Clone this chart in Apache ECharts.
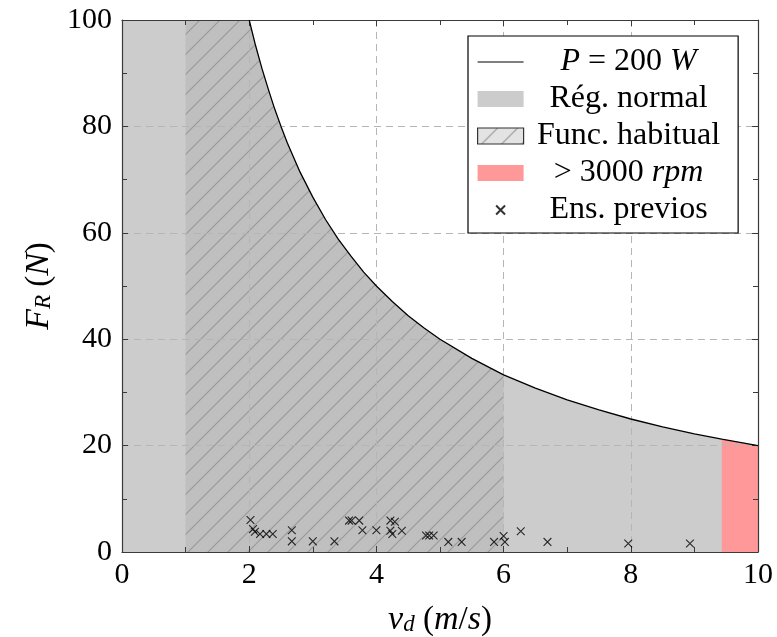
<!DOCTYPE html>
<html>
<head>
<meta charset="utf-8">
<script src="https://cdn.jsdelivr.net/npm/echarts@6/dist/echarts.min.js"></script>
<style>
html,body{margin:0;padding:0;background:#fff;}
#chart{width:777px;height:637px;}
</style>
</head>
<body>
<div id="chart"></div>
<script>
// ---- data ----
// curve P = 200 W  (F = P / v), values read/tabulated
const curveV = [2, 2.1, 2.2, 2.3, 2.4, 2.5, 2.6, 2.8, 3, 3.2, 3.4, 3.6, 3.8, 4, 4.25, 4.5, 4.75, 5, 5.5, 6, 6.5, 7, 7.5, 8, 8.5, 9, 9.43, 10];
const curveF = [100, 95.2, 90.9, 87.0, 83.3, 80, 76.9, 71.4, 66.7, 62.5, 58.8, 55.6, 52.6, 50, 47.1, 44.4, 42.1, 40, 36.4, 33.3, 30.8, 28.6, 26.7, 25, 23.5, 22.2, 21.2, 20];
const normalStart = 0;      // Rég. normal from v = 0
const habitualRange = [1, 6];   // Func. habitual
const rpmRange = [9.43, 10];    // > 3000 rpm
const yTop = 100;
const prevV = [2.02, 2.06, 2.09, 2.17, 2.27, 2.37, 2.67, 2.67, 3.0, 3.34, 3.57, 3.61, 3.73, 3.78, 4.0, 4.22, 4.29, 4.22, 4.25, 4.40, 4.78, 4.83, 4.90, 5.13, 5.34, 5.85, 6.0, 6.02, 6.27, 6.69, 7.96, 8.93];
const prevF = [6.0, 4.3, 3.8, 3.4, 3.4, 3.4, 4.1, 2.0, 2.0, 2.0, 5.9, 5.9, 5.9, 4.1, 4.1, 5.9, 5.7, 4.0, 3.4, 4.0, 3.1, 3.1, 3.1, 1.9, 1.9, 1.9, 3.0, 1.9, 3.9, 1.9, 1.6, 1.6];
const xTicks = [0, 2, 4, 6, 8, 10];
const yTicks = [0, 20, 40, 60, 80, 100];
const names = ['P = 200 W', 'Rég. normal', 'Func. habitual', '> 3000 rpm', 'Ens. previos'];

// ---- helpers ----
function hatch(bg, line, size) {
  const c = document.createElement('canvas');
  c.width = size; c.height = size;
  const ctx = c.getContext('2d');
  ctx.fillStyle = bg; ctx.fillRect(0, 0, size, size);
  ctx.strokeStyle = line; ctx.lineWidth = 1.2;
  ctx.beginPath();
  ctx.moveTo(-2, size + 2); ctx.lineTo(size + 2, -2);
  ctx.moveTo(-2, 2); ctx.lineTo(2, -2);
  ctx.moveTo(size - 2, size + 2); ctx.lineTo(size + 2, size - 2);
  ctx.stroke();
  return { image: c, repeat: 'repeat' };
}
const plotHatch = hatch('#bfbfbf', '#9a9a9a', 20);
const legendHatch = hatch('#e3e3e3', '#9a9a9a', 20);

const curve = curveV.map((v, i) => [v, curveF[i]]);
function sub(a, b) { return curve.filter(p => p[0] >= a - 1e-9 && p[0] <= b + 1e-9); }
const normalData = [[normalStart, yTop]].concat(curve);
const habitualData = [[habitualRange[0], yTop]].concat(sub(curveV[0], habitualRange[1]));
const rpmData = sub(rpmRange[0], rpmRange[1]);
const prevData = prevV.map((v, i) => [v, prevF[i]]);

const FONT = 'Liberation Serif';
const rich = {
  i: { fontFamily: FONT, fontSize: 32, fontStyle: 'italic', color: '#000', align: 'center', lineHeight: 30 },
  r: { fontFamily: FONT, fontSize: 32, color: '#000', align: 'center', lineHeight: 30 }
};
const axRich = {
  i: { fontFamily: FONT, fontSize: 34, fontStyle: 'italic', color: '#000', lineHeight: 32 },
  r: { fontFamily: FONT, fontSize: 33, color: '#000', lineHeight: 32 },
  s: { fontFamily: FONT, fontSize: 23, fontStyle: 'italic', color: '#000', lineHeight: 17, verticalAlign: 'bottom' }
};
const legendLabel = {
  'P = 200 W': '{i|P}{r| = 200 }{i|W}',
  'Rég. normal': '{r|Rég. normal}',
  'Func. habitual': '{r|Func. habitual}',
  '> 3000 rpm': '{r|> 3000 }{i|rpm}',
  'Ens. previos': '{r|Ens. previos}'
};
const xPath = 'path://M-4,-4L-4,-4M14,14L14,14M0,0L10,10M10,0L0,10';
const lineIcon = 'path://M0,0h46v1.2h-46z';

const AX = '#3a3a3a';
const gridLine = { show: true, lineStyle: { color: '#b5b5b5', type: [7, 5], width: 1 } };
function baseAxis(extra) {
  return Object.assign({
    type: 'value', z: 2,
    axisLine: { show: true, onZero: false, lineStyle: { color: AX, width: 1.2 } },
    axisTick: { show: true, inside: true, length: 6, lineStyle: { color: AX, width: 1 } },
    minorTick: { show: true, splitNumber: 2, length: 5, lineStyle: { color: AX, width: 1 } },
    minorSplitLine: { show: false }
  }, extra);
}

const chart = echarts.init(document.getElementById('chart'), null, { renderer: 'canvas' });
chart.setOption({
  animation: false,
  backgroundColor: '#fff',
  grid: { left: 122, top: 20, width: 636, height: 532, containLabel: false, outerBoundsMode: 'none' },
  xAxis: [
    baseAxis({
      position: 'bottom', min: xTicks[0], max: xTicks[xTicks.length - 1], interval: 2,
      splitLine: gridLine,
      axisLabel: { fontFamily: FONT, fontSize: 30, color: '#000', margin: 8 },
      name: '{i|v}{s|d}{r| (}{i|m}{r|/}{i|s}{r|)}',
      nameLocation: 'middle', nameGap: 52,
      nameTextStyle: { rich: axRich }
    }),
    baseAxis({
      position: 'top', min: xTicks[0], max: xTicks[xTicks.length - 1], interval: 2,
      splitLine: { show: false }, axisLabel: { show: false }
    })
  ],
  yAxis: [
    baseAxis({
      position: 'left', min: yTicks[0], max: yTicks[yTicks.length - 1], interval: 20,
      splitLine: gridLine,
      axisLabel: { fontFamily: FONT, fontSize: 30, color: '#000', margin: 10 },
      name: '{i|F}{s|R}{r| (}{i|N}{r|)}',
      nameLocation: 'middle', nameGap: 66, nameRotate: 90,
      nameTextStyle: { rich: axRich }
    }),
    baseAxis({
      position: 'right', min: yTicks[0], max: yTicks[yTicks.length - 1], interval: 20,
      splitLine: { show: false }, axisLabel: { show: false }
    })
  ],
  legend: {
    show: true,
    orient: 'vertical',
    left: 468, top: 36,
    padding: [10, 18, 7, 9],
    itemGap: 5,
    itemWidth: 46, itemHeight: 16,
    backgroundColor: '#fff',
    borderColor: '#000', borderWidth: 1.2, borderRadius: 0,
    selectedMode: false,
    formatter: n => legendLabel[n] || n,
    textStyle: { width: 200, rich: rich, fontFamily: FONT, fontSize: 32, color: '#000' },
    data: [
      { name: names[0], icon: lineIcon, itemStyle: { color: '#000', borderWidth: 0 } },
      { name: names[1], icon: 'rect', itemStyle: { color: '#cccccc', borderWidth: 0 } },
      { name: names[2], icon: 'rect', itemStyle: { color: legendHatch, borderColor: '#333', borderWidth: 1.2 } },
      { name: names[3], icon: 'rect', itemStyle: { color: '#ff9999', borderWidth: 0 } },
      { name: names[4] }
    ]
  },
  series: [
    {
      name: names[1], type: 'line', z: 1, silent: true, symbol: 'none',
      data: normalData, color: '#cccccc',
      itemStyle: { color: '#cccccc' },
      lineStyle: { width: 0, opacity: 0 },
      areaStyle: { color: '#cccccc', opacity: 1 }
    },
    {
      name: names[2], type: 'line', z: 1, silent: true, symbol: 'none',
      data: habitualData, color: '#bfbfbf',
      itemStyle: { color: '#bfbfbf' },
      lineStyle: { width: 0, opacity: 0 },
      areaStyle: { color: plotHatch, opacity: 1 }
    },
    {
      name: names[3], type: 'line', z: 1, silent: true, symbol: 'none',
      data: rpmData, color: '#ff9999',
      itemStyle: { color: '#ff9999' },
      lineStyle: { width: 0, opacity: 0 },
      areaStyle: { color: '#ff9999', opacity: 1 }
    },
    {
      name: names[0], type: 'line', z: 3, silent: true, symbol: 'none',
      data: curve, color: '#000',
      lineStyle: { color: '#000', width: 1.3 }
    },
    {
      name: names[4], type: 'scatter', z: 4, silent: true,
      symbol: xPath, symbolSize: 14,
      data: prevData,
      itemStyle: { color: 'rgba(0,0,0,0)', borderColor: '#000', borderWidth: 1.1 }
    }
  ]
});
</script>
</body>
</html>
